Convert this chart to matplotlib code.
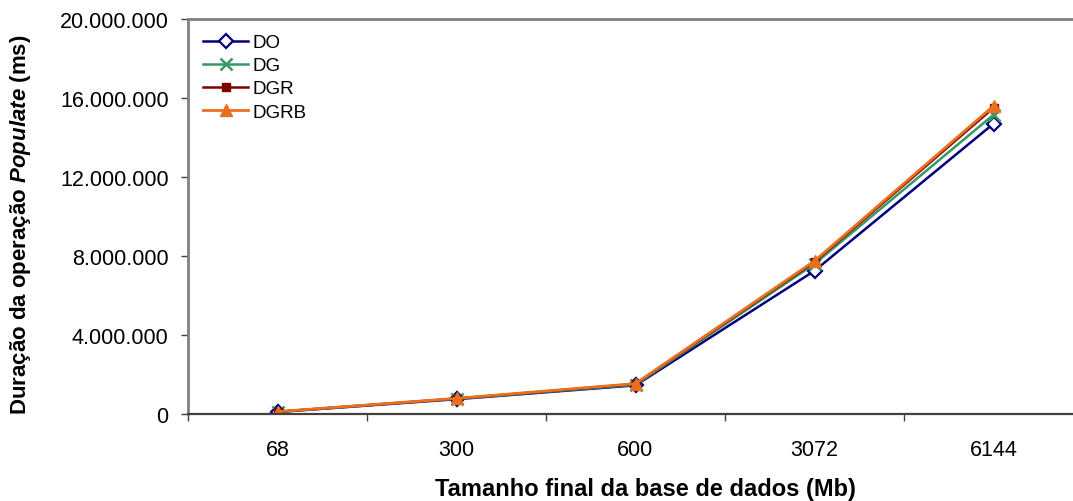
import matplotlib.pyplot as plt
from matplotlib.ticker import FuncFormatter

plt.rcParams['font.family'] = ['Liberation Sans', 'DejaVu Sans']
plt.rcParams['mathtext.fontset'] = 'custom'
plt.rcParams['mathtext.it'] = 'Liberation Sans:italic:bold'
plt.rcParams['mathtext.rm'] = 'Liberation Sans:bold'

sizes = ["68", "300", "600", "3072", "6144"]
do = [100000, 750000, 1450000, 7250000, 14700000]
dg = [110000, 770000, 1480000, 7600000, 15150000]
dgr = [115000, 780000, 1520000, 7700000, 15500000]
dgrb = [120000, 790000, 1540000, 7750000, 15600000]

fig = plt.figure(figsize=(10.73, 5.02), dpi=100)
ax = fig.add_axes([188/1073, 1 - 415/502, 895/1073, 395/502])

x = range(len(sizes))
ax.plot(x, do, color="#000080", lw=1.8, marker="D", ms=7, mfc="white", mec="#000080", mew=1.6, label="DO")
ax.plot(x, dg, color="#339966", lw=1.8, marker="x", ms=9, mew=1.8, label="DG")
ax.plot(x, dgr, color="#800000", lw=1.8, marker="s", ms=5.5, label="DGR")
ax.plot(x, dgrb, color="#E8701E", lw=2.0, marker="^", ms=8, mfc="#E8701E", mec="#E8701E", label="DGRB")

ax.set_xlim(-0.5, 4.5)
ax.set_ylim(0, 20000000)
ax.set_yticks(range(0, 20000001, 4000000))
ax.yaxis.set_major_formatter(FuncFormatter(lambda v, p: f"{int(v):,}".replace(",", ".")))
ax.tick_params(axis="y", labelsize=15.5, length=5, width=1, pad=9, color="#404040")

ax.set_xticks([i - 0.5 for i in range(6)])
ax.set_xticklabels([])
ax.set_xticks(list(x), minor=True)
ax.set_xticklabels(sizes, minor=True)
ax.tick_params(axis="x", which="major", length=5, width=1, color="#404040")
ax.tick_params(axis="x", which="minor", length=0, labelsize=15.5, pad=18)

ax.spines["right"].set_visible(False)
ax.spines["top"].set_color("#808080")
ax.spines["top"].set_linewidth(2)
ax.spines["left"].set_color("#808080")
ax.spines["left"].set_linewidth(2)
ax.spines["bottom"].set_color("#404040")
ax.spines["bottom"].set_linewidth(1.6)

ax.set_ylabel("Duração da operação $\\mathit{Populate}$ (ms)", fontsize=16, fontweight="bold")
ax.yaxis.set_label_coords(-155/895, 0.482)
fig.text(645/1073, 1 - 490/502, "Tamanho final da base de dados (Mb)", fontsize=17,
         fontweight="bold", ha="center", va="center")

ax.legend(loc="upper left", bbox_to_anchor=(0.0, 1.0), frameon=False, fontsize=13.5,
          handlelength=2.4, handletextpad=0.25, labelspacing=0.32, borderaxespad=0.4)

fig.savefig("out.png", dpi=100)
